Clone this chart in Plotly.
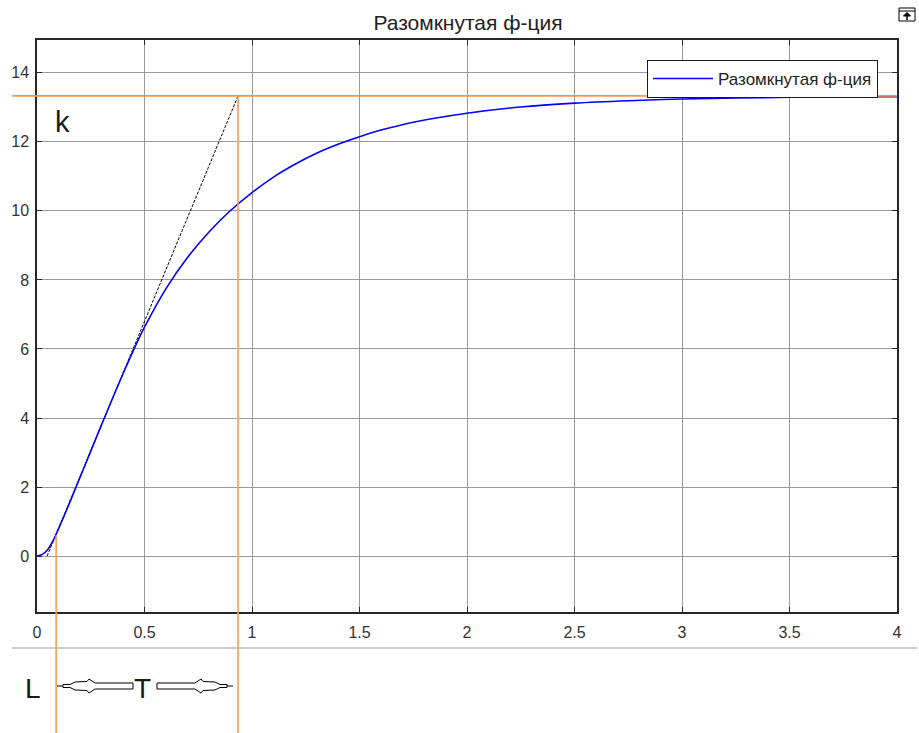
import plotly.graph_objects as go

# ---- data ----
t_vals = [0.0, 0.025, 0.05, 0.075, 0.1, 0.125, 0.15, 0.2, 0.25, 0.3, 0.35, 0.4, 0.45, 0.5,
          0.6, 0.7, 0.8, 0.9, 1.0, 1.1, 1.2, 1.3, 1.4, 1.5, 1.6, 1.75, 2.0, 2.25, 2.5, 2.75,
          3.0, 3.25, 3.5, 3.75, 4.0]
y_vals = [0.0, 0.05, 0.19, 0.45, 0.79, 1.15, 1.52, 2.28, 3.04, 3.8, 4.55, 5.28, 5.98, 6.63,
          7.75, 8.65, 9.39, 10.01, 10.53, 10.98, 11.35, 11.67, 11.93, 12.15, 12.34, 12.57, 12.83, 13.01, 13.12, 13.19,
          13.24, 13.27, 13.29, 13.305, 13.31]
series_name = "Разомкнутая ф-ция"
title_text = "Разомкнутая ф-ция"

k_val = 13.33        # steady-state gain
L_val = 0.089        # delay
L_y = 0.6            # curve value at L
T_end = 0.935        # L + T
tangent_start = 0.047

x_ticks = [0, 0.5, 1, 1.5, 2, 2.5, 3, 3.5, 4]
x_ticklabels = ["0", "0.5", "1", "1.5", "2", "2.5", "3", "3.5", "4"]
y_ticks = [0, 2, 4, 6, 8, 10, 12, 14]

# ---- layout geometry ----
W, H = 919, 733
ML, MR, MT, MB = 37, 22, 40, 121
PW, PH = W - ML - MR, H - MT - MB
x_range = [0, 4]
y_range = [-1.62, 14.95]

def px_x(px):
    return (px - ML) / PW

def px_y(py):
    return (H - MB - py) / PH

def data_y_to_paper(v):
    return (v - y_range[0]) / (y_range[1] - y_range[0])

ORANGE = "#FF9A4D"
FONT = "Liberation Sans, Arial, sans-serif"

fig = go.Figure()

# tangent line
fig.add_trace(go.Scatter(x=[tangent_start, T_end], y=[0, k_val], mode="lines",
                         line=dict(color="black", width=1, dash="3px,1.5px"),
                         showlegend=False, hoverinfo="skip"))
# response
fig.add_trace(go.Scatter(x=t_vals, y=y_vals, mode="lines", name=series_name,
                         line=dict(color="#0000FF", width=1.6, shape="spline", smoothing=1.0)))

shapes = []
# horizontal k line (starts left of axis)
shapes.append(dict(type="line", xref="paper", yref="y", x0=px_x(12), x1=1, y0=k_val, y1=k_val,
                   line=dict(color=ORANGE, width=1.6), layer="above"))
# vertical L line
shapes.append(dict(type="line", xref="x", yref="paper", x0=L_val, x1=L_val,
                   y0=data_y_to_paper(L_y), y1=px_y(H), line=dict(color=ORANGE, width=1.6), layer="above"))
# vertical L+T line
shapes.append(dict(type="line", xref="x", yref="paper", x0=T_end, x1=T_end,
                   y0=data_y_to_paper(k_val), y1=px_y(H), line=dict(color=ORANGE, width=1.6), layer="above"))
# gray separator
shapes.append(dict(type="line", xref="paper", yref="paper", x0=px_x(12), x1=px_x(917),
                   y0=px_y(648), y1=px_y(648), line=dict(color="#BDBDBD", width=1.5)))

# hollow block arrows (pixel outlines converted to paper coords)
def path_from_px(pts, close=True):
    s = ""
    for i, (a, b) in enumerate(pts):
        s += ("M" if i == 0 else "L") + f"{px_x(a):.5f},{px_y(b):.5f} "
    if close:
        s += "Z"
    return s

cy = 686
left_arrow = [(63, cy - 1.5), (70, cy - 1.5), (75, cy - 4), (87, cy - 4.5), (89, cy - 7), (95, cy - 3),
              (133, cy - 3), (133, cy + 3), (95, cy + 3), (89, cy + 7), (87, cy + 4.5), (75, cy + 4),
              (70, cy + 1.5), (63, cy + 1.5)]
right_arrow = [(2 * 145 - a, b) for (a, b) in left_arrow]
for poly in (left_arrow, right_arrow):
    shapes.append(dict(type="path", xref="paper", yref="paper", path=path_from_px(poly),
                       line=dict(color="black", width=1), fillcolor="white"))
shapes.append(dict(type="line", xref="paper", yref="paper", x0=px_x(57), x1=px_x(63), y0=px_y(cy), y1=px_y(cy),
                   line=dict(color="black", width=1)))
shapes.append(dict(type="line", xref="paper", yref="paper", x0=px_x(227), x1=px_x(233), y0=px_y(cy), y1=px_y(cy),
                   line=dict(color="black", width=1)))

# little toolbar icon top-right
shapes.append(dict(type="rect", xref="paper", yref="paper", x0=px_x(899), x1=px_x(915), y0=px_y(8), y1=px_y(21),
                   line=dict(color="black", width=1), fillcolor="white"))
shapes.append(dict(type="line", xref="paper", yref="paper", x0=px_x(899), x1=px_x(915), y0=px_y(11), y1=px_y(11),
                   line=dict(color="black", width=1)))
shapes.append(dict(type="path", xref="paper", yref="paper",
                   path=path_from_px([(907, 12.5), (903.5, 16), (910.5, 16)]),
                   line=dict(color="black", width=1), fillcolor="black"))
shapes.append(dict(type="line", xref="paper", yref="paper", x0=px_x(907), x1=px_x(907), y0=px_y(15), y1=px_y(20),
                   line=dict(color="black", width=1.5)))

annotations = [
    dict(text="k", xref="paper", yref="paper", x=px_x(62), y=px_y(122), showarrow=False,
         font=dict(family=FONT, size=29, color="#1a1a1a"), xanchor="center", yanchor="middle"),
    dict(text="L", xref="paper", yref="paper", x=px_x(33), y=px_y(688), showarrow=False,
         font=dict(family=FONT, size=28, color="#1a1a1a"), xanchor="center", yanchor="middle"),
    dict(text="T", xref="paper", yref="paper", x=px_x(142), y=px_y(688), showarrow=False,
         font=dict(family=FONT, size=28, color="#1a1a1a"), xanchor="center", yanchor="middle"),
]

axis_common = dict(showline=True, linecolor="#262626", linewidth=1.5, mirror="ticks",
                   showgrid=True, gridcolor="#999999", gridwidth=1, zeroline=False,
                   ticks="inside", ticklen=5, tickcolor="#262626", tickwidth=1,
                   tickfont=dict(family=FONT, size=16, color="#333333"))

fig.update_layout(
    width=W, height=H,
    margin=dict(l=ML, r=MR, t=MT, b=MB, pad=0),
    paper_bgcolor="white", plot_bgcolor="white",
    title=dict(text=title_text, x=468 / W, xanchor="center",
               y=1 - 23 / H, yanchor="middle",
               font=dict(family=FONT, size=21, color="#222222")),
    xaxis=dict(range=x_range, tickvals=x_ticks, ticktext=x_ticklabels, ticklabelstandoff=5, **axis_common),
    yaxis=dict(range=y_range, tickvals=y_ticks, ticklabelstandoff=3, **axis_common),
    legend=dict(x=px_x(878), y=px_y(60), xanchor="right", yanchor="top",
                bgcolor="white", bordercolor="#1a1a1a", borderwidth=1,
                font=dict(family=FONT, size=17, color="#222222"),
                itemwidth=60, tracegroupgap=0),
    shapes=shapes,
    annotations=annotations,
    showlegend=True,
)

fig.write_html("out.html")
